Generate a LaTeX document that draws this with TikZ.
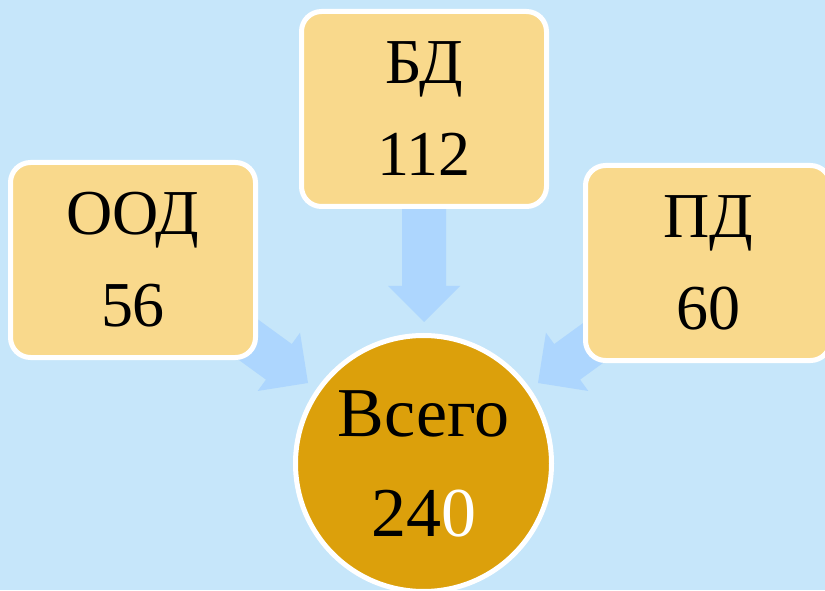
\documentclass[tikz,border=0pt]{standalone}
\usepackage{fontspec}
\setmainfont{Liberation Serif}
\pgfdeclarelayer{bg}
\pgfdeclarelayer{arrows}
\pgfsetlayers{bg,arrows,main}
\definecolor{bgblue}{HTML}{C6E6FA}
\definecolor{arrblue}{HTML}{ADD6FE}
\definecolor{boxfill}{HTML}{F9D98C}
\definecolor{circfill}{HTML}{DCA00B}
\tikzset{
  catbox/.style={draw=white, line width=5pt, fill=boxfill, rounded corners=20pt,
    minimum width=245pt, minimum height=195pt, inner sep=0pt, align=center,
    font=\fontsize{64}{92}\selectfont},
  totalcirc/.style={circle, draw=white, line width=5pt, fill=circfill,
    minimum size=256pt, inner sep=0pt, align=center,
    font=\fontsize{70}{100}\selectfont},
  blockarrow/.style={fill=arrblue, draw=none},
}
\newcommand\blockarr[3]{%
  \fill[blockarrow, shift={(#1)}, rotate=#2] (0,0) -- (-36,36) -- (-36,22) -- (-#3,22)
    -- (-#3,-22) -- (-36,-22) -- (-36,-36) -- cycle;}
\begin{document}
\begin{tikzpicture}[x=1pt,y=1pt]
  \useasboundingbox (0,0) rectangle (825,590);
  \begin{pgfonlayer}{bg}
    \fill[bgblue] (0,0) rectangle (825,590);
  \end{pgfonlayer}

  \node[catbox] (ood) at (133,330) {ООД\\56};
  \node[catbox] (bd) at (424,481) {БД\\112};
  \node[catbox] (pd) at (708,327) {ПД\\60};
  \node[totalcirc] (total) at (423.5,126.5) {Всего\\24\textcolor{white}{0}};

  \coordinate (tipL) at (308,207);
  \coordinate (tipD) at (424,268);
  \coordinate (tipR) at (538,207);

  \begin{pgfonlayer}{arrows}
    \blockarr{tipL}{-36}{110}
    \blockarr{tipD}{-90}{130}
    \blockarr{tipR}{-144}{110}
  \end{pgfonlayer}
\end{tikzpicture}
\end{document}
